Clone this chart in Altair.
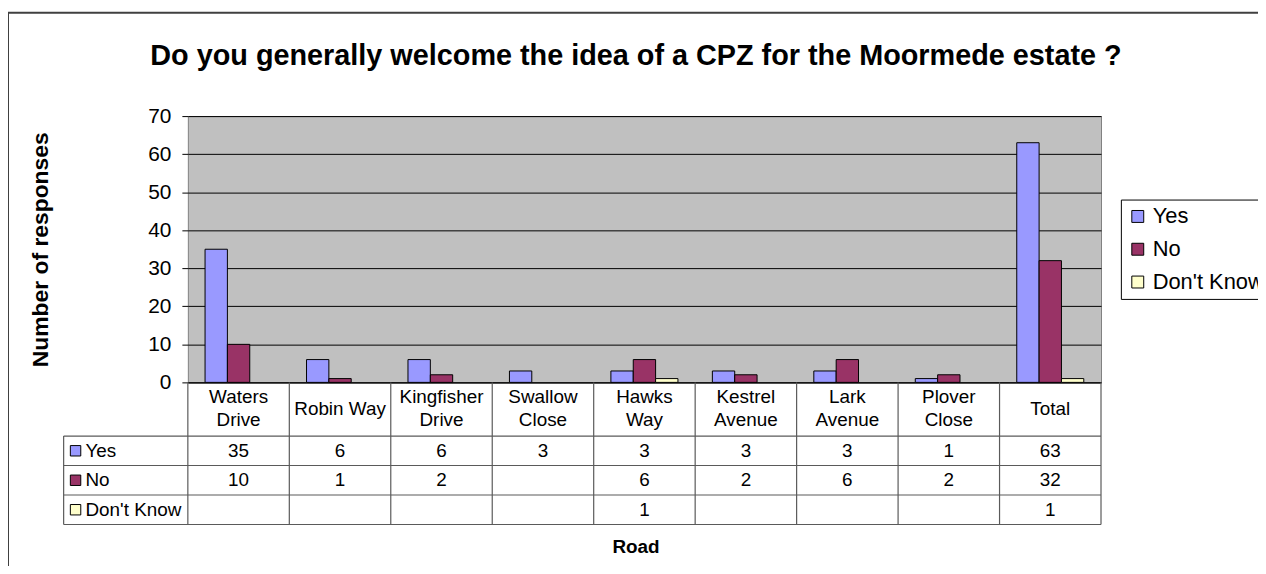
import altair as alt
import pandas as pd

FONT = "Liberation Sans"

# ---------------- data ----------------
roads = ["Waters Drive", "Robin Way", "Kingfisher Drive", "Swallow Close",
         "Hawks Way", "Kestrel Avenue", "Lark Avenue", "Plover Close", "Total"]
single_line_headers = ["Robin Way", "Total"]
series = ["Yes", "No", "Don't Know"]
yes_vals = [35, 6, 6, 3, 3, 3, 3, 1, 63]
no_vals = [10, 1, 2, None, 6, 2, 6, 2, 32]
dk_vals = [None, None, None, None, 1, None, None, None, 1]
colors = ["#9999FF", "#993366", "#FFFFCC"]
y_ticks = [0, 10, 20, 30, 40, 50, 60, 70]
title_text = "Do you generally welcome the idea of a CPZ for the Moormede estate ?"
y_title = "Number of responses"
x_title = "Road"

rows = []
for s, vals in zip(series, [yes_vals, no_vals, dk_vals]):
    for r, v in zip(roads, vals):
        if v is not None:
            rows.append({"road": r, "series": s, "value": v})
df = pd.DataFrame(rows)
df_series = pd.DataFrame({"series": series})
df_roads = pd.DataFrame({"road": roads})
df_single = df_roads[df_roads["road"].isin(single_line_headers)]
df_double = df_roads[~df_roads["road"].isin(single_line_headers)]
one = pd.DataFrame({"k": [0]})

# ---------------- layout constants (view = plot area) ----------------
W, H = 919, 268
TABLE_TOP = 322      # bottom of header row (view coords)
TABLE_BOTTOM = 411
TABLE_LEFT = -125
LINE = "#5a5a5a"

x_scale = alt.Scale(domain=roads, paddingInner=0, paddingOuter=0)
xoff_scale = alt.Scale(domain=series, paddingInner=0, paddingOuter=0.77)
color_scale = alt.Scale(domain=series, range=colors)
row_scale = alt.Scale(type="band", domain=series, range=[TABLE_TOP, TABLE_BOTTOM],
                      paddingInner=0, paddingOuter=0)

legend = alt.Legend(title=None, orient="none", legendX=939, legendY=84,
                    fillColor="white", strokeColor="black", padding=6,
                    labelFontSize=22, labelFont=FONT, labelColor="black", labelOffset=4,
                    symbolType="square", symbolSize=144, symbolStrokeColor="black",
                    symbolStrokeWidth=1, symbolOpacity=1, rowPadding=11, labelLimit=300)

x_axis = alt.Axis(title=None, orient="bottom", labels=False, ticks=False, tickSize=0,
                  domain=True, domainColor="black", domainWidth=1, grid=False)

y_axis = alt.Axis(values=y_ticks, title=y_title, titleFont=FONT, titleFontSize=23,
                  titleFontWeight="bold", titleColor="black", titleX=-148, titleY=H / 2,
                  titleAngle=270, titleAlign="center", titleBaseline="middle",
                  labelFont=FONT, labelFontSize=21, labelColor="black", labelPadding=11,
                  tickSize=6, tickColor="black", domain=False, grid=True,
                  gridColor="black", gridWidth=1)

fill_enc = alt.Fill("series:N", scale=color_scale, legend=legend)

border = alt.Chart(one).mark_rect(fill="transparent", stroke="#404040", strokeWidth=2).encode(
    x=alt.value(-181), x2=alt.value(W + 200), y=alt.value(-104), y2=alt.value(H + 220))

title = alt.Chart(one).mark_text(text=title_text, font=FONT, fontSize=29, fontWeight="bold",
                                 color="black", align="center", baseline="alphabetic").encode(
    x=alt.value(451), y=alt.value(-51))

road_title = alt.Chart(one).mark_text(text=x_title, font=FONT, fontSize=19, fontWeight="bold",
                                      color="black", align="center", baseline="middle").encode(
    x=alt.value(451), y=alt.value(434))

bars = alt.Chart(df).mark_bar(stroke="black", strokeWidth=1).encode(
    x=alt.X("road:N", scale=x_scale, axis=x_axis),
    xOffset=alt.XOffset("series:N", scale=xoff_scale),
    y=alt.Y("value:Q", scale=alt.Scale(domain=[0, 70], nice=False), axis=y_axis),
    fill=fill_enc,
)

header_double = alt.Chart(df_double).mark_text(font=FONT, fontSize=19, color="black",
                                               align="center", baseline="middle",
                                               lineBreak=" ", lineHeight=23).encode(
    x=alt.X("road:N", scale=x_scale, axis=None),
    y=alt.value(283),
    text="road:N",
)
header_single = alt.Chart(df_single).mark_text(font=FONT, fontSize=19, color="black",
                                               align="center", baseline="middle").encode(
    x=alt.X("road:N", scale=x_scale, axis=None),
    y=alt.value(295),
    text="road:N",
)

cell_text = alt.Chart(df).mark_text(font=FONT, fontSize=19, color="black",
                                    align="center", baseline="middle").encode(
    x=alt.X("road:N", scale=x_scale, axis=None),
    y=alt.Y("series:N", scale=row_scale, axis=None),
    text="value:Q",
)

row_symbols = alt.Chart(df_series).mark_square(size=110, stroke="black", strokeWidth=1,
                                              opacity=1).encode(
    x=alt.value(TABLE_LEFT + 12),
    y=alt.Y("series:N", scale=row_scale, axis=None),
    fill=fill_enc,
)

row_labels = alt.Chart(df_series).mark_text(font=FONT, fontSize=19, color="black",
                                           align="left", baseline="middle").encode(
    x=alt.value(TABLE_LEFT + 22),
    y=alt.Y("series:N", scale=row_scale, axis=None),
    text="series:N",
)

h_rules = alt.Chart(df_series).mark_rule(color=LINE, strokeWidth=1.2).encode(
    y=alt.Y("series:N", scale=row_scale, axis=None, bandPosition=0),
    x=alt.value(TABLE_LEFT), x2=alt.value(W),
)
h_rule_last = alt.Chart(df_series.iloc[-1:]).mark_rule(color=LINE, strokeWidth=1.2).encode(
    y=alt.Y("series:N", scale=row_scale, axis=None, bandPosition=1),
    x=alt.value(TABLE_LEFT), x2=alt.value(W),
)
v_rules = alt.Chart(df_roads).mark_rule(color=LINE, strokeWidth=1.2).encode(
    x=alt.X("road:N", scale=x_scale, axis=None, bandPosition=0),
    y=alt.value(H), y2=alt.value(TABLE_BOTTOM),
)
v_rule_last = alt.Chart(df_roads.iloc[-1:]).mark_rule(color=LINE, strokeWidth=1.2).encode(
    x=alt.X("road:N", scale=x_scale, axis=None, bandPosition=1),
    y=alt.value(H), y2=alt.value(TABLE_BOTTOM),
)
v_rule_left = alt.Chart(one).mark_rule(color=LINE, strokeWidth=1.2).encode(
    x=alt.value(TABLE_LEFT), y=alt.value(TABLE_TOP), y2=alt.value(TABLE_BOTTOM),
)

chart = alt.layer(
    border, title, bars, h_rules, h_rule_last, v_rules, v_rule_last, v_rule_left,
    header_double, header_single, cell_text, row_symbols, row_labels, road_title,
).resolve_scale(y="independent").resolve_axis(x="independent").properties(
    width=W, height=H,
    padding={"left": 181, "top": 107, "right": 158, "bottom": 183},
    autosize=alt.AutoSizeParams(type="none"),
    background="white",
).configure_view(stroke="#808080", strokeWidth=1, fill="#C0C0C0")

chart.save("out.html", embed_options={"renderer": "svg", "actions": False})
